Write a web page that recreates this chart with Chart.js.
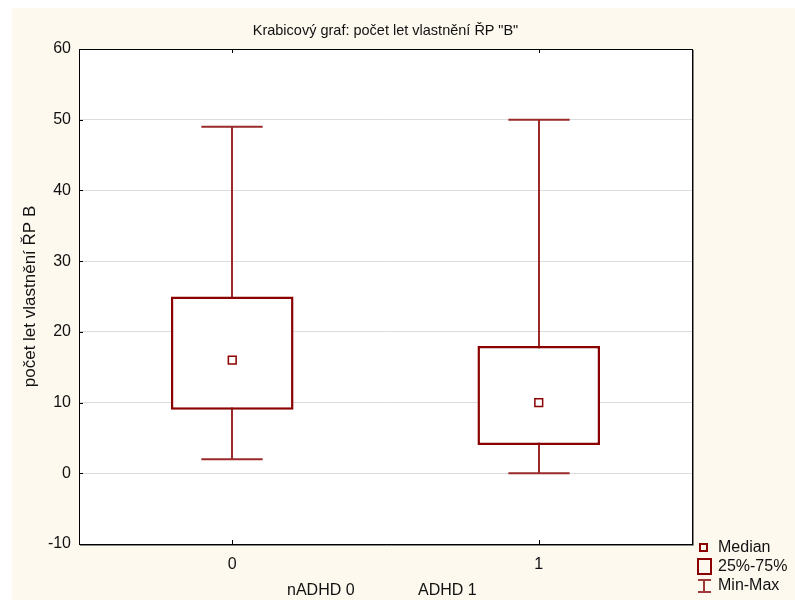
<!DOCTYPE html>
<html>
<head>
<meta charset="utf-8">
<script src="https://cdn.jsdelivr.net/npm/chart.js@4.4.1/dist/chart.umd.min.js"></script>
<style>
  html, body { margin: 0; padding: 0; background: #fff; }
  body { width: 795px; height: 600px; position: relative; overflow: hidden;
         font-family: "Liberation Sans", Arial, sans-serif; color: #111; }
  #paper { position: absolute; left: 12px; top: 8px; right: 0; bottom: 0; background: #fdf9ef; }
  #wrap { position: absolute; left: 0; top: 0; width: 795px; height: 600px; }
  .txt { position: absolute; white-space: nowrap; line-height: 18px; }
  #title { left: 0; width: 771px; top: 21px; text-align: center; font-size: 14.5px; }
  #grp0 { left: 287px; top: 581px; font-size: 16px; }
  #grp1 { left: 418px; top: 581px; font-size: 16px; }
  .lg { left: 718px; font-size: 16px; }
  .mk { position: absolute; box-sizing: border-box; }
</style>
</head>
<body>
<div id="paper"></div>
<div id="wrap"><canvas id="boxChart" width="795" height="600"></canvas></div>
<div class="txt" id="title">Krabicový graf: počet let vlastnění ŘP "B"</div>
<div class="txt" id="grp0">nADHD 0</div>
<div class="txt" id="grp1">ADHD 1</div>

<!-- legenda -->
<div class="mk" style="left:699px;top:543px;width:9px;height:9px;border:2px solid #8b0000;"></div>
<div class="txt lg" style="top:538px;">Median</div>
<div class="mk" style="left:697px;top:558px;width:15px;height:17px;border:2px solid #8b0000;"></div>
<div class="txt lg" style="top:557px;">25%-75%</div>
<div class="mk" style="left:698px;top:579px;width:13px;height:2px;background:#a03a3a;"></div>
<div class="mk" style="left:703px;top:579px;width:2px;height:14px;background:#a03a3a;"></div>
<div class="mk" style="left:698px;top:591px;width:13px;height:2px;background:#a03a3a;"></div>
<div class="txt lg" style="top:576px;">Min-Max</div>

<script>
// Krabicový graf

const categories = ['0', '1'];
const minVals    = [2, 0];
const q1Vals     = [9, 4];
const medianVals = [16, 10];
const q3Vals     = [25, 18];
const maxVals    = [49, 50];

const Y_MIN = -10;
const Y_MAX = 60;
const Y_STEP = 10;

const BOX_COLOR = '#8b0000';
const WHISKER_COLOR = '#9a2a2a';

// bílé pozadí grafu + rámeček
const plotBackground = {
  id: 'plotBackground',
  beforeDraw(chart) {
    const { ctx, chartArea: a } = chart;
    ctx.save();
    ctx.fillStyle = '#ffffff';
    ctx.fillRect(a.left, a.top, a.right - a.left, a.bottom - a.top);
    ctx.restore();
  },
  afterDraw(chart) {
    const { ctx, chartArea: a, scales } = chart;
    ctx.save();
    // stín vpravo a dole
    ctx.strokeStyle = '#888';
    ctx.lineWidth = 1;
    ctx.beginPath();
    ctx.moveTo(a.right + 1.5, a.top + 1);
    ctx.lineTo(a.right + 1.5, a.bottom + 1.5);
    ctx.lineTo(a.left + 1, a.bottom + 1.5);
    ctx.stroke();
    ctx.strokeStyle = '#000';
    ctx.strokeRect(a.left + 0.5, a.top + 0.5, a.right - a.left, a.bottom - a.top);

    // drobné vnitřní značky os
    ctx.beginPath();
    scales.y.ticks.forEach(t => {
      const y = Math.round(scales.y.getPixelForValue(t.value)) + 0.5;
      ctx.moveTo(a.left, y);
      ctx.lineTo(a.left + 4, y);
    });
    categories.forEach((c, i) => {
      const x = Math.round(scales.x.getPixelForValue(i)) + 0.5;
      ctx.moveTo(x, a.top);
      ctx.lineTo(x, a.top + 4);
      ctx.moveTo(x, a.bottom);
      ctx.lineTo(x, a.bottom - 4);
    });
    ctx.stroke();
    ctx.restore();
  }
};

// vousy min-max (kreslí se pod krabicí)
const whiskers = {
  id: 'whiskers',
  beforeDatasetsDraw(chart) {
    const { ctx, scales } = chart;
    const boxMeta = chart.getDatasetMeta(1);
    ctx.save();
    ctx.strokeStyle = WHISKER_COLOR;
    ctx.lineWidth = 2;
    categories.forEach((c, i) => {
      const x = Math.round(scales.x.getPixelForValue(i));
      const half = boxMeta.data[i].width / 4;
      const yLo = scales.y.getPixelForValue(minVals[i]);
      const yHi = scales.y.getPixelForValue(maxVals[i]);
      ctx.beginPath();
      ctx.moveTo(x, yLo);
      ctx.lineTo(x, yHi);
      ctx.moveTo(x - half, yLo);
      ctx.lineTo(x + half, yLo);
      ctx.moveTo(x - half, yHi);
      ctx.lineTo(x + half, yHi);
      ctx.stroke();
    });
    ctx.restore();
  }
};

const tickFont = { family: '"Liberation Sans", Arial, sans-serif', size: 16 };

new Chart(document.getElementById('boxChart'), {
  type: 'bar',
  data: {
    labels: categories,
    datasets: [
      {
        type: 'line',
        label: 'Median',
        data: medianVals,
        showLine: false,
        pointStyle: 'rect',
        pointRadius: 5.5,
        pointBorderWidth: 1.5,
        pointBorderColor: BOX_COLOR,
        pointBackgroundColor: '#ffffff',
        order: 0
      },
      {
        label: '25%-75%',
        data: categories.map((c, i) => [q1Vals[i], q3Vals[i]]),
        backgroundColor: '#ffffff',
        borderColor: BOX_COLOR,
        borderWidth: 2.5,
        borderSkipped: false,
        barPercentage: 0.4,
        categoryPercentage: 1,
        order: 1
      }
    ]
  },
  plugins: [plotBackground, whiskers],
  options: {
    responsive: false,
    animation: false,
    layout: { padding: { left: 0, right: 103, top: 49, bottom: 0 } },
    plugins: {
      legend: { display: false },
      tooltip: { enabled: false },
      title: { display: false }
    },
    scales: {
      x: {
        grid: { display: false, drawTicks: false },
        border: { display: false },
        ticks: { color: '#111', font: tickFont, padding: 11 },
        afterFit: s => { s.height = 56; }
      },
      y: {
        min: Y_MIN,
        max: Y_MAX,
        grid: { color: '#dcdcdc', drawTicks: false },
        border: { display: false },
        ticks: { stepSize: Y_STEP, color: '#111', font: tickFont, padding: 8 },
        title: {
          display: true,
          text: 'počet let vlastnění ŘP B',
          color: '#111',
          font: { family: tickFont.family, size: 17 },
          padding: { top: 20, bottom: 0 }
        },
        afterFit: s => { s.width = 79; }
      }
    }
  }
});
</script>
</body>
</html>
